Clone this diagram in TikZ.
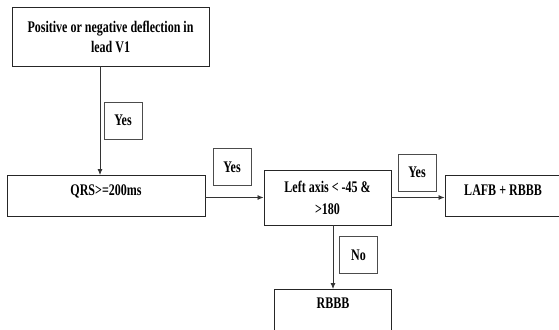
\documentclass[tikz,border=0pt]{standalone}
\usepackage{fontspec}
\setmainfont{Liberation Serif}
\usetikzlibrary{arrows.meta}
\newcommand{\tallbf}[1]{\scalebox{1}[1.35]{#1}}

\begin{document}
\begin{tikzpicture}[x=1pt, y=-1pt, line width=0.9pt, >={Latex[length=6pt,width=5pt]},
        box/.style = {draw=black!85, align=center, font=\fontsize{12}{20}\selectfont\bfseries},
        tag/.style = {draw=black!70, minimum width=38pt, minimum height=37pt, inner sep=0pt, font=\fontsize{12}{14}\selectfont\bfseries},
        link/.style = {->, draw=black!80, line width=0.8pt}]
        \useasboundingbox (0,0) rectangle (559,329);

        \node[box, minimum width=197pt, minimum height=59pt] (v1) at (110.5,36.5) {\tallbf{Positive or negative deflection in}\\\tallbf{lead V1}};
        \node[box, anchor=north, minimum width=198pt, inner ysep=0pt, text height=20pt, text depth=21pt] (qrs) at (106,175) {\tallbf{QRS>=200ms}};
        \node[box, minimum width=127pt, minimum height=55pt, font=\fontsize{12}{22}\selectfont\bfseries] (axis) at (327.5,197.5) {\tallbf{Left axis < -45 \&}\\\tallbf{>180}};
        \node[box, anchor=north, minimum width=116pt, inner ysep=0pt, text height=20pt, text depth=21pt] (lafb) at (503,175) {\tallbf{LAFB + RBBB}};
        \node[box, anchor=north, minimum width=117pt, inner ysep=0pt, text height=19pt, text depth=22pt] (rbbb) at (333,289) {\tallbf{RBBB}};

        \node[tag] (yes1) at (123,120.5) {\tallbf{Yes}};
        \node[tag] (yes2) at (232,167) {\tallbf{Yes}};
        \node[tag] (yes3) at (417,172.5) {\tallbf{Yes}};
        \node[tag] (no) at (358.5,255) {\tallbf{No}};

        \draw[link] ([xshift=-10.5pt]v1.south) -- ([xshift=-10.5pt]v1.south |- qrs.north);
        \draw[link] (qrs.east |- axis.west) -- (axis.west);
        \draw[link] (axis.east) -- (lafb.west |- axis.east);
        \draw[link] (rbbb.north |- axis.south) -- (rbbb.north);
    \end{tikzpicture}
\end{document}
